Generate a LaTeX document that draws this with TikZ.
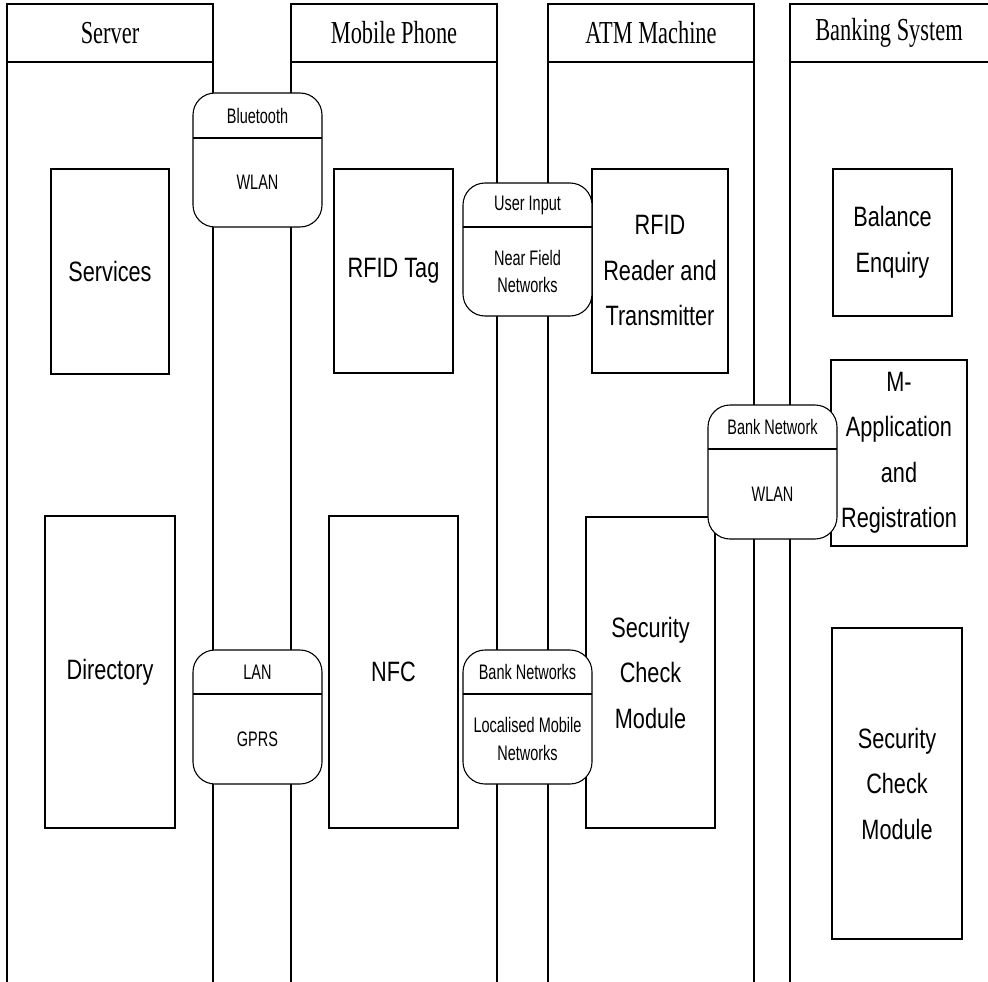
\documentclass[tikz,border=0pt]{standalone}
\usepackage{fontspec}
\setmainfont{Liberation Sans}
% condensed faces for the lane titles, the unit boxes and the link labels
\newfontfamily\laneheadfont[FakeStretch=0.7]{Liberation Serif}
\newfontfamily\unitfont[FakeStretch=0.775]{Liberation Sans}
\newfontfamily\linkfont[FakeStretch=0.69]{Liberation Sans}
\tikzset{
  every node/.style={outer sep=0pt},
  lane/.style={line width=1.1pt},
  lanehead/.style={draw, line width=1.1pt, minimum width=206pt, minimum height=58pt,
    inner sep=0pt, font=\laneheadfont\fontsize{32}{36}\selectfont},
  unit/.style={draw, line width=1.1pt, fill=white, inner sep=2pt, align=center,
    font=\unitfont\fontsize{28}{45.5}\selectfont},
  linkbox/.style={draw, line width=1.1pt, fill=white, rounded corners=22pt,
    minimum width=129pt, minimum height=134pt, inner sep=0pt},
  linktext/.style={inner sep=0pt, align=center,
    font=\linkfont\fontsize{21}{27.5}\selectfont},
}
\begin{document}
\begin{tikzpicture}[x=1pt,y=-1pt]
\useasboundingbox (0,0) rectangle (988,982);

% lane titles
\node[lanehead] (server) at (110,33) {Server};
\node[lanehead] (phone) at (394,33) {Mobile Phone};
\node[lanehead] (atm) at (651,33) {ATM Machine};
\node[lanehead, draw=none, minimum width=198pt] (bank) at (889,33) {Banking System};
\draw[lane] (bank.north east) -- (bank.north west) -- (bank.south west) -- (bank.south east);

% lane borders
\coordinate (floor) at (0,982);
\foreach \h in {server,phone,atm} {
  \draw[lane] (\h.south west) -- (\h.south west |- floor);
  \draw[lane] (\h.south east) -- (\h.south east |- floor);
}
\draw[lane] (bank.south west) -- (bank.south west |- floor);

% units in each lane
\node[unit, minimum width=118pt, minimum height=205pt] (services) at (110,271.5) {Services};
\node[unit, minimum width=130pt, minimum height=312pt] (directory) at (110,672) {Directory};
\node[unit, minimum width=119pt, minimum height=204pt] (rfidtag) at (393.5,271) {RFID Tag};
\node[unit, minimum width=129pt, minimum height=312pt] (nfc) at (393.5,672) {NFC};
\node[unit, minimum width=136pt, minimum height=204pt] (reader) at (660,271) {RFID\\Reader and\\Transmitter};
\node[unit, minimum width=129pt, minimum height=311pt] (atmcheck) at (650.5,672.5) {Security\\Check\\Module};
\node[unit, minimum width=119pt, minimum height=147pt] (balance) at (892.5,242.5) {Balance\\Enquiry};
\node[unit, minimum width=136pt, minimum height=186pt] (mapp) at (899,453) {M-\\Application\\and\\Registration};
\node[unit, minimum width=130pt, minimum height=311pt] (bankcheck) at (897,783.5) {Security\\Check\\Module};

% links between lanes
\node[linkbox] (bt) at (257.5,160) {};
\draw[lane] ([yshift=-45pt]bt.north west) -- ([yshift=-45pt]bt.north east);
\node[linktext] (bt-a) at (257.5,115.5) {Bluetooth};
\node[linktext] (bt-b) at (257.5,182.5) {WLAN};

\node[linkbox, minimum height=133pt] (ui) at (527.5,249.5) {};
\draw[lane] ([yshift=-44pt]ui.north west) -- ([yshift=-44pt]ui.north east);
\node[linktext] (ui-a) at (527.5,205) {User Input};
\node[linktext] (ui-b) at (527.5,271.5) {Near Field\\Networks};

\node[linkbox] (bn) at (772.5,472) {};
\draw[lane] ([yshift=-44pt]bn.north west) -- ([yshift=-44pt]bn.north east);
\node[linktext] (bn-a) at (772.5,427) {Bank Network};
\node[linktext] (bn-b) at (772.5,494) {WLAN};

\node[linkbox] (lan) at (257.5,717) {};
\draw[lane] ([yshift=-44pt]lan.north west) -- ([yshift=-44pt]lan.north east);
\node[linktext] (lan-a) at (257.5,672) {LAN};
\node[linktext] (lan-b) at (257.5,739) {GPRS};

\node[linkbox] (bns) at (527.5,717) {};
\draw[lane] ([yshift=-44pt]bns.north west) -- ([yshift=-44pt]bns.north east);
\node[linktext] (bns-a) at (527.5,672) {Bank Networks};
\node[linktext] (bns-b) at (527.5,739) {Localised Mobile\\Networks};
\end{tikzpicture}
\end{document}
